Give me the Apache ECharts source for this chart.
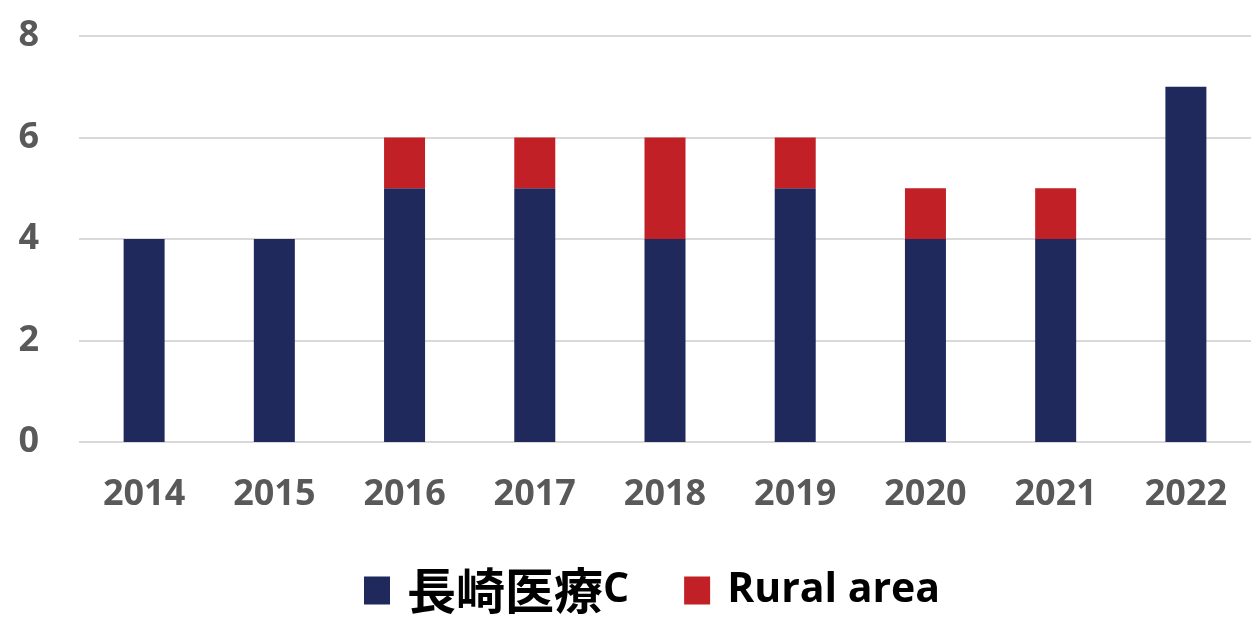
<!DOCTYPE html>
<html><head><meta charset="utf-8">
<script src="https://cdn.jsdelivr.net/npm/echarts@6/dist/echarts.min.js"></script>
<style>html,body{margin:0;padding:0;background:#fff}#c{width:1258px;height:620px}</style>
</head><body><div id="c"></div>
<script>
const categories = ['2014','2015','2016','2017','2018','2019','2020','2021','2022'];
const nagasaki = [4,4,5,5,4,5,4,4,7];
const rural = [null,null,1,1,2,1,1,1,null];
const yTicks = {min:0,max:8,interval:2};
const FONT = '"Open Sans","Noto Sans CJK JP",sans-serif';
const CJK = '"Noto Sans CJK JP",sans-serif';
const chart = echarts.init(document.getElementById('c'));
chart.setOption({
  animation:false,
  grid:{left:79,right:7,top:36,bottom:178},
  legend:{
    top:561,left:359,itemWidth:26,itemHeight:28,itemGap:55,
    icon:'rect',
    formatter:function(name){
      if(name==='長崎医療C') return '{j|長崎医療}{l|C}';
      return '{l|'+name+'}';
    },
    textStyle:{padding:[0,0,0,12],fontFamily:FONT,fontWeight:'bold',fontSize:41,color:'#000',
      rich:{
        j:{fontFamily:CJK,fontWeight:'bold',fontSize:49,color:'#000'},
        l:{fontFamily:FONT,fontWeight:'bold',fontSize:41,color:'#000'}
      }},
    data:['長崎医療C','Rural area']
  },
  xAxis:{type:'category',data:categories,
    axisLine:{show:false},axisTick:{show:false},
    axisLabel:{margin:35,fontFamily:FONT,fontWeight:'bold',fontSize:36,color:'#595959'}},
  yAxis:{type:'value',min:yTicks.min,max:yTicks.max,interval:yTicks.interval,
    axisLabel:{margin:40,fontFamily:FONT,fontWeight:'bold',fontSize:36,color:'#595959'},
    splitLine:{lineStyle:{color:'#d9d9d9',width:2}}},
  series:[
    {name:'長崎医療C',type:'bar',stack:'a',barWidth:41,data:nagasaki,itemStyle:{color:'#1F295C'}},
    {name:'Rural area',type:'bar',stack:'a',barWidth:41,data:rural,itemStyle:{color:'#C02026'}}
  ]
});
</script></body></html>
